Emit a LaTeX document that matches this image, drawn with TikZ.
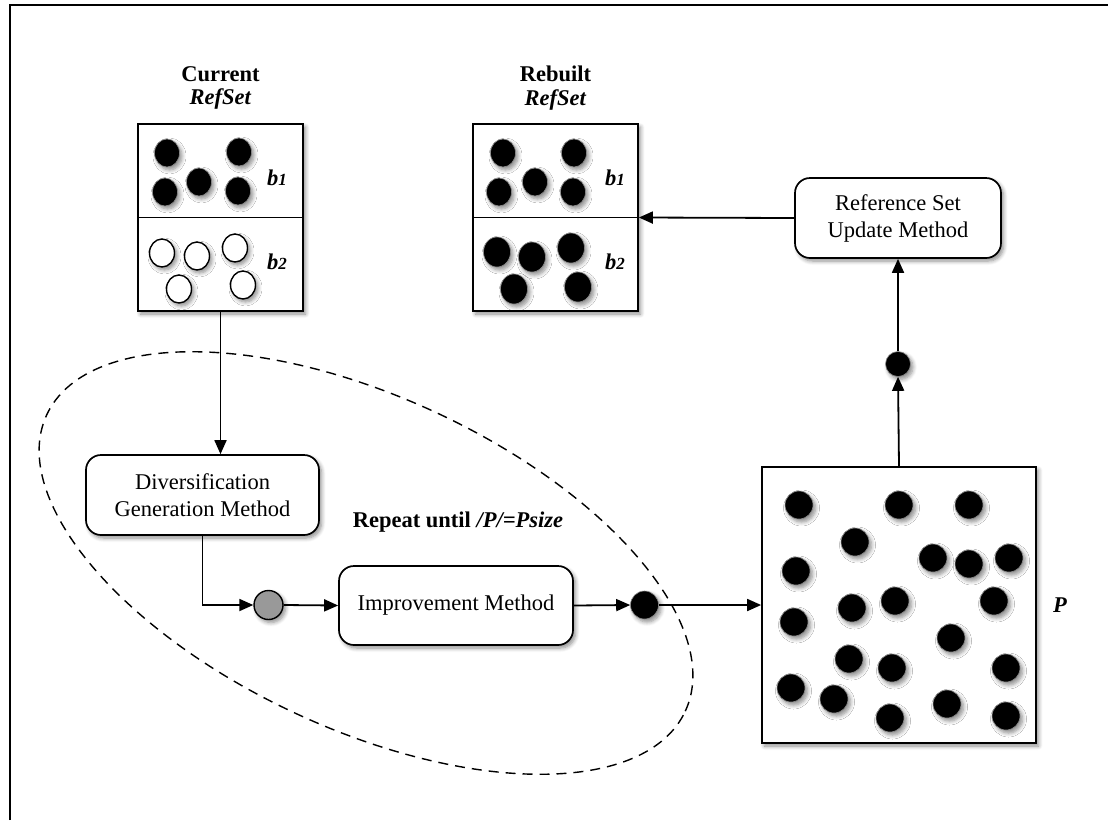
\documentclass[tikz,border=0pt]{standalone}
\usepackage{fontspec}
\setmainfont{Liberation Serif}
\usetikzlibrary{arrows.meta,shadows,shadows.blur,shapes.geometric}
\begin{document}
\begin{tikzpicture}[x=1pt,y=-1pt,
  every node/.style={font=\fontsize{22.5}{27}\selectfont},
  shad/.style={blur shadow={shadow xshift=2.5pt,shadow yshift=-3pt,shadow blur radius=4pt,shadow blur steps=6,shadow opacity=45}},
  box/.style={draw,line width=1.7pt,fill=white,shad,inner sep=0pt},
  method/.style={box,rounded corners=15pt,align=center},
  bdot/.style={ellipse,fill=black,draw=black!45,line width=0.6pt,inner sep=0pt,shad,minimum width=25pt,minimum height=28pt},
  bdotl/.style={bdot,minimum width=27pt,minimum height=30pt},
  wdot/.style={ellipse,fill=white,draw=black,line width=1.4pt,inner sep=0pt,shad,minimum width=25pt,minimum height=28pt},
  pdot/.style={circle,fill=black,draw=black!45,line width=0.6pt,inner sep=0pt,shad,minimum size=28pt},
  lab/.style={font=\fontsize{22.5}{23.5}\selectfont\bfseries,align=center,inner sep=0pt},
  conn/.style={line width=1.8pt,-{Triangle[length=14pt,width=12pt]}},
  bsub/.style={font=\fontsize{22.5}{27}\selectfont\bfseries\itshape,inner sep=0pt}
]
\useasboundingbox (0,0) rectangle (1108,820);
% outer frame
\draw[line width=2.8pt] (10,820) -- (10,5) -- (1108,5);

% dashed loop
\draw[line width=1.4pt,dash pattern=on 10pt off 7pt,shift={(366,563)},rotate=-24.9]
  (0,0) ellipse [x radius=352pt,y radius=166pt];

% current refset
\node[lab] (cur) at (220.5,88) {Current\\\textit{RefSet}};
\node[box,minimum width=165pt,minimum height=187pt] (rs1) at (220.5,217.5) {};
\draw[line width=1.4pt] (rs1.west) -- (rs1.east);
\foreach \x/\y [count=\i] in {167/153,165/192,199/182,239/152,238/191}
  \node[bdot] (ca\i) at (\x,\y) {};
\foreach \x/\y [count=\i] in {162/253,197/256,235/248,179/289,243/285}
  \node[wdot] (cb\i) at (\x,\y) {};
\node[bsub] (cl1) at (277,178) {b{\fontsize{17}{17}\selectfont 1}};
\node[bsub] (cl2) at (277,262) {b{\fontsize{17}{17}\selectfont 2}};

% rebuilt refset
\node[lab] (reb) at (555.5,88) {Rebuilt\\\textit{RefSet}};
\node[box,minimum width=165pt,minimum height=187pt] (rs2) at (555.5,217.5) {};
\draw[line width=1.4pt] (rs2.west) -- (rs2.east);
\foreach \x/\y [count=\i] in {503/153,499/192,535/182,574/153,573/192}
  \node[bdot] (ra\i) at (\x,\y) {};
\foreach \x/\y [count=\i] in {497/252,532/257,571/248,514/289,578/287}
  \node[bdotl] (rb\i) at (\x,\y) {};
\node[bsub] (rl1) at (615,178) {b{\fontsize{17}{17}\selectfont 1}};
\node[bsub] (rl2) at (615,262) {b{\fontsize{17}{17}\selectfont 2}};

% methods
\node[method,minimum width=206pt,minimum height=80pt] (rsum) at (898,218) {Reference Set\\Update Method};
\node[method,minimum width=233pt,minimum height=80pt] (dgm) at (202.5,495) {Diversification\\Generation Method};
\node[method,minimum width=234pt,minimum height=79pt] (im) at (456,605.5) {Improvement Method};

% small circles
\node[circle,fill=black!40,draw=black,line width=1.4pt,minimum size=29pt,inner sep=0pt,shad] (gc) at (268.5,605) {};
\node[pdot] (bc) at (644.5,605) {};
\node[pdot,minimum size=25pt] (sc) at (898,364) {};

% population
\node[box,minimum width=274pt,minimum height=276pt] (pop) at (899,605) {};
\foreach \x/\y [count=\i] in {799/505,899/505,969/505,855/542,933/558,969/564,1009/558,796/571,852/608,895/601,994/601,794/622,951/638,849/659,892/668,1006/668,791/688,834/699,890/718,947/704,1006/716}
  \node[pdot] (p\i) at (\x,\y) {};
\node[bsub] (plab) at (1060,605) {P};

\node[lab] (rep) at (458,522) {Repeat until \textit{/P/=Psize}};

% connectors
\draw[conn] (rs1.south) -- (rs1.south |- dgm.north);
\draw[conn] (dgm.south) |- (gc.west);
\draw[conn] (gc.east) -- (im.west);
\draw[conn] (im.east) -- (bc.west);
\draw[conn] (bc.east) -- (pop.west);
\draw[conn] (pop.north) -- (sc.south);
\draw[conn] (sc.north) -- (rsum.south);
\draw[conn] (rsum.west) -- (rs2.east);
\end{tikzpicture}
\end{document}
